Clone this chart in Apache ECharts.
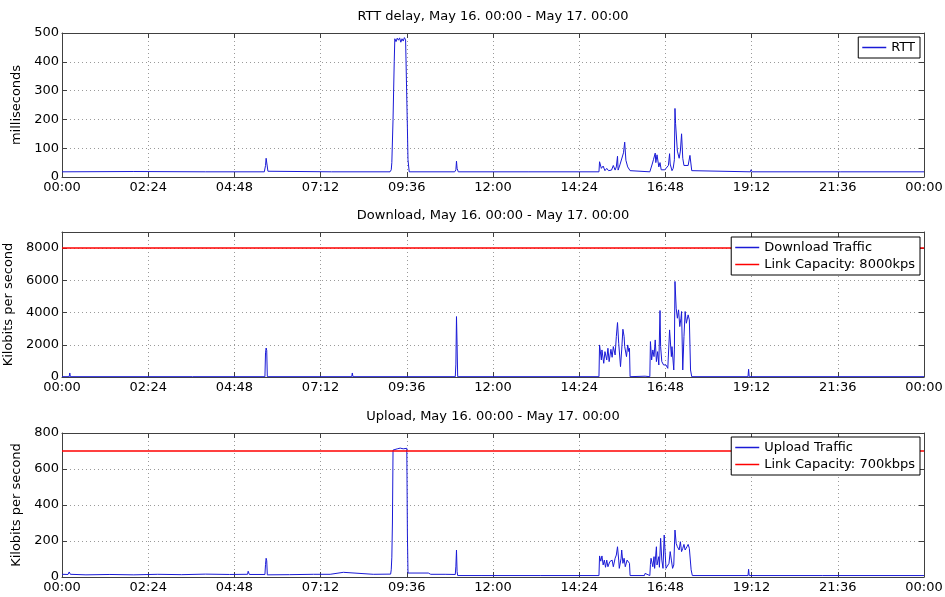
<!DOCTYPE html>
<html>
<head>
<meta charset="utf-8">
<script src="https://cdn.jsdelivr.net/npm/echarts@6/dist/echarts.min.js"></script>
<style>
html,body{margin:0;padding:0;background:#fff;}
#c{width:945px;height:597px;}
</style>
</head>
<body>
<div id="c"></div>
<script>
// ---- data (minutes since 00:00, value) ----
const titles = [
  'RTT delay, May 16. 00:00 - May 17. 00:00',
  'Download, May 16. 00:00 - May 17. 00:00',
  'Upload, May 16. 00:00 - May 17. 00:00'
];
const yNames = ['milliseconds', 'Kilobits per second', 'Kilobits per second'];
const xTickMinutes = [0, 144, 288, 432, 576, 720, 864, 1008, 1152, 1296, 1440];

const rttSeries = [[0,18],[120,19],[240,18],[338,18],[340,40],[341,65],[342,62],[344,20],[346,18],[450,18],[548,18],[550,25],[551,50],[553,200],[555,400],[556,480],[558,470],[560,482],[562,475],[564,483],[566,468],[568,480],[570,472],[572,484],[574,476],[576,482],[577,170],[578,60],[580,18],[656,18],[658,25],[659,55],[660,30],[662,18],[780,18],[897,18],[898,53],[901,30],[904,38],[907,22],[910,30],[913,22],[918,24],[921,40],[924,24],[926,35],[928,72],[929,24],[932,42],[935,48],[938,84],[940,121],[942,58],[945,35],[949,22],[952,18],[982,18],[986,45],[988,60],[991,83],[992,50],[994,77],[997,35],[999,50],[1001,25],[1004,30],[1007,25],[1010,22],[1013,40],[1015,81],[1016,45],[1019,22],[1021,30],[1023,60],[1024,238],[1025,186],[1028,90],[1031,65],[1033,90],[1035,150],[1037,65],[1039,40],[1042,38],[1046,40],[1049,75],[1052,22],[1055,18],[1150,18],[1151,25],[1153,18],[1300,18],[1440,18]];

const downloadSeries = [[0,20],[12,20],[13,250],[14,20],[218,20],[219,80],[221,20],[339,20],[340,1500],[341,1800],[342,1650],[343,20],[484,20],[485,250],[486,20],[657,20],[658,800],[659,3750],[660,2000],[661,20],[897,20],[898,1990],[899,1928],[901,1057],[902,1679],[905,850],[907,1575],[910,1057],[912,1783],[914,954],[917,1720],[919,1223],[921,1887],[924,1368],[926,2509],[928,3379],[930,2094],[933,643],[935,1679],[937,2964],[939,2509],[940,1887],[943,1264],[945,1990],[947,1575],[948,1783],[949,20],[974,50],[975,20],[982,20],[983,2197],[985,1057],[987,1679],[989,1264],[991,2301],[993,954],[995,1575],[997,746],[999,4125],[1000,1887],[1002,954],[1005,746],[1007,643],[1009,746],[1012,539],[1014,643],[1015,2923],[1018,1264],[1019,1887],[1022,435],[1023,1679],[1024,5930],[1026,4270],[1028,3648],[1030,4167],[1032,3130],[1034,3648],[1035,4063],[1037,435],[1039,2509],[1041,4063],[1043,3337],[1046,3856],[1048,3545],[1050,435],[1052,20],[1146,20],[1147,480],[1148,20],[1440,20]];

const uploadSeries = [[0,15],[10,14],[12,28],[14,15],[40,12],[80,14],[120,12],[160,15],[200,13],[240,16],[280,14],[310,15],[311,32],[313,14],[339,14],[340,70],[341,104],[342,90],[343,12],[380,13],[420,15],[448,15],[450,26],[470,26],[473,15],[520,15],[549,16],[550,40],[551,110],[552,300],[553,705],[555,715],[560,712],[565,716],[570,712],[576,715],[577,243],[578,22],[612,22],[616,15],[640,15],[657,14],[658,60],[659,150],[660,30],[661,8],[700,8],[800,8],[897,8],[898,117],[900,88],[902,117],[904,67],[906,94],[908,54],[910,94],[912,57],[915,85],[917,76],[919,94],[921,57],[924,104],[926,122],[928,168],[930,94],[931,48],[934,104],[935,150],[937,76],[939,104],[941,57],[944,94],[946,85],[948,76],[949,8],[973,8],[974,20],[977,12],[982,8],[983,70],[984,104],[987,57],[989,113],[990,48],[993,168],[994,67],[997,113],[998,54],[1000,215],[1002,94],[1004,48],[1006,233],[1008,233],[1009,48],[1012,40],[1014,76],[1016,141],[1018,94],[1020,48],[1022,67],[1024,261],[1026,187],[1028,168],[1031,150],[1033,196],[1035,141],[1037,159],[1039,181],[1041,150],[1044,168],[1046,181],[1048,159],[1051,40],[1053,8],[1146,8],[1147,43],[1148,8],[1270,8],[1271,14],[1272,8],[1440,8]];

const downloadCapacity = 8000;
const uploadCapacity = 700;
const yRanges = [[0, 500, 100], [0, 9000, 2000], [0, 800, 200]];
const seriesNames = ['RTT', 'Download Traffic', 'Link Capacity: 8000kps', 'Upload Traffic', 'Link Capacity: 700kbps'];

// ---- chart ----
const FONT = 'DejaVu Sans';
const grids = [
  {left: 62, top: 33, width: 862, height: 144, outerBoundsMode: 'none', containLabel: false},
  {left: 62, top: 232, width: 862, height: 145, outerBoundsMode: 'none', containLabel: false},
  {left: 62, top: 433, width: 862, height: 144, outerBoundsMode: 'none', containLabel: false}
];
const nameGaps = [31, 39, 39];
const titleTops = [10, 209, 410];
const axisCol = '#404040';
const gridCol = '#9a9a9a';

function fmt(v) {
  const m = Math.round(v) % 1440;
  const h = Math.floor(m / 60), mm = m % 60;
  return (h < 10 ? '0' : '') + h + ':' + (mm < 10 ? '0' : '') + mm;
}

const xAxes = [], yAxes = [];
grids.forEach((g, i) => {
  xAxes.push({
    gridIndex: i, type: 'value', min: xTickMinutes[0], max: xTickMinutes[xTickMinutes.length - 1], interval: 144,
    position: 'bottom',
    axisLine: {show: true, onZero: false, lineStyle: {color: axisCol, width: 1}},
    axisTick: {show: true, inside: true, length: 5, lineStyle: {color: axisCol}},
    axisLabel: {show: true, formatter: fmt, color: '#000', fontFamily: FONT, fontSize: 13, margin: 4, showMinLabel: true, showMaxLabel: true},
    splitLine: {show: true, lineStyle: {color: gridCol, type: [1, 3], width: 1}}
  });
  yAxes.push({
    gridIndex: i, type: 'value', min: yRanges[i][0], max: yRanges[i][1], interval: yRanges[i][2],
    position: 'left',
    name: yNames[i], nameLocation: 'middle', nameGap: nameGaps[i], nameRotate: 90,
    nameTextStyle: {color: '#000', fontFamily: FONT, fontSize: 13},
    axisLine: {show: true, onZero: false, lineStyle: {color: axisCol, width: 1}},
    axisTick: {show: true, inside: true, length: 5, lineStyle: {color: axisCol}},
    axisLabel: {color: '#000', fontFamily: FONT, fontSize: 13, margin: 3, showMaxLabel: i !== 1, formatter: v => String(v)},
    splitLine: {show: true, lineStyle: {color: gridCol, type: [1, 3], width: 1}}
  });
});
grids.forEach((g, i) => {
  xAxes.push({
    gridIndex: i, type: 'value', min: 0, max: 1440, interval: 144, position: 'top',
    axisLine: {show: true, onZero: false, lineStyle: {color: axisCol, width: 1}},
    axisTick: {show: true, inside: true, length: 5, lineStyle: {color: axisCol}},
    axisLabel: {show: false}, splitLine: {show: false}
  });
  yAxes.push({
    gridIndex: i, type: 'value', min: yRanges[i][0], max: yRanges[i][1], interval: yRanges[i][2], position: 'right',
    axisLine: {show: true, onZero: false, lineStyle: {color: axisCol, width: 1}},
    axisTick: {show: true, inside: true, length: 5, lineStyle: {color: axisCol}},
    axisLabel: {show: false}, splitLine: {show: false}
  });
});

const blue = '#1a1ad6';
const red = '#ff0000';
function lineSeries(name, data, idx, color, width) {
  return {
    name: name, type: 'line', xAxisIndex: idx, yAxisIndex: idx, data: data,
    symbol: 'none', showSymbol: false, animation: false, silent: true,
    lineStyle: {color: color, width: width}, itemStyle: {color: color}
  };
}

const series = [
  lineSeries(seriesNames[0], rttSeries, 0, blue, 1),
  lineSeries(seriesNames[1], downloadSeries, 1, blue, 1),
  lineSeries(seriesNames[2], [[0, downloadCapacity], [1440, downloadCapacity]], 1, red, 1.5),
  lineSeries(seriesNames[3], uploadSeries, 2, blue, 1),
  lineSeries(seriesNames[4], [[0, uploadCapacity], [1440, uploadCapacity]], 2, red, 1.5)
];

const legendBase = {
  orient: 'vertical', right: 25, icon: 'rect', itemWidth: 24, itemHeight: 1.5, itemGap: 4,
  padding: [4, 5, 4, 4], backgroundColor: '#fff', borderColor: '#000', borderWidth: 1, borderRadius: 0,
  textStyle: {color: '#000', fontFamily: FONT, fontSize: 13},
  selectedMode: false
};
const legends = [
  Object.assign({}, legendBase, {top: 37, data: [seriesNames[0]]}),
  Object.assign({}, legendBase, {top: 237, data: [seriesNames[1], seriesNames[2]]}),
  Object.assign({}, legendBase, {top: 437, data: [seriesNames[3], seriesNames[4]]})
];

const chart = echarts.init(document.getElementById('c'), null, {renderer: 'canvas'});
chart.setOption({
  animation: false,
  backgroundColor: '#fff',
  title: titles.map((t, i) => ({
    text: t, left: 493, top: titleTops[i], textAlign: 'center', padding: 0,
    textStyle: {color: '#000', fontFamily: FONT, fontSize: 13, fontWeight: 'normal'}
  })),
  grid: grids,
  xAxis: xAxes,
  yAxis: yAxes,
  legend: legends,
  series: series
});
</script>
</body>
</html>
